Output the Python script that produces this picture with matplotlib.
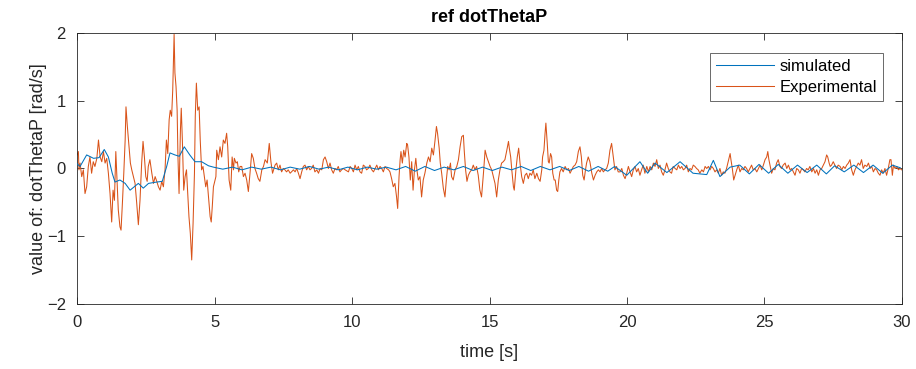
import matplotlib
matplotlib.use("Agg")
import matplotlib.pyplot as plt

# Experimental angular rate samples (time [s], value [rad/s])
exp_t = [
    0.00, 0.05, 0.07, 0.11, 0.17, 0.23, 0.29, 0.35, 0.41, 0.47, 0.53, 0.59, 0.65, 0.72, 0.78, 0.84, 0.90, 0.96,
    1.02, 1.08, 1.14, 1.20, 1.26, 1.31, 1.36, 1.41, 1.45, 1.50, 1.56, 1.60, 1.65, 1.70, 1.75, 1.78, 1.83, 1.89,
    1.94, 1.99, 2.05, 2.11, 2.17, 2.23, 2.29, 2.35, 2.40, 2.45, 2.50, 2.55, 2.59, 2.65, 2.72, 2.78, 2.84, 2.90,
    2.96, 3.02, 3.08, 3.14, 3.20, 3.25, 3.30, 3.35, 3.39, 3.44, 3.48, 3.53, 3.56, 3.60, 3.64, 3.67, 3.71, 3.76,
    3.79, 3.83, 3.88, 3.93, 3.98, 4.02, 4.07, 4.12, 4.17, 4.22, 4.27, 4.30, 4.34, 4.39, 4.44, 4.48, 4.53, 4.58,
    4.63, 4.68, 4.73, 4.78, 4.84, 4.88,
    4.92, 4.96, 5.05, 5.08, 5.14, 5.20, 5.26, 5.32, 5.38, 5.44, 5.48, 5.53, 5.59, 5.64, 5.69, 5.72, 5.78, 5.83,
    5.88, 5.93, 5.99, 6.05, 6.11, 6.17, 6.23, 6.29, 6.35, 6.41, 6.47, 6.53, 6.59, 6.65, 6.72, 6.78, 6.84, 6.92,
    6.99, 7.05, 7.11, 7.20, 7.26, 7.32, 7.38, 7.44, 7.50, 7.56, 7.62, 7.68, 7.75, 7.80, 7.87, 7.93, 7.99, 8.05,
    8.11, 8.17, 8.23, 8.29, 8.35, 8.41, 8.47, 8.53, 8.59, 8.65, 8.72, 8.78, 8.84, 8.90, 8.96, 9.02, 9.08, 9.14,
    9.20, 9.26, 9.32, 9.38, 9.44, 9.50, 9.56, 9.62, 9.68, 9.75,
    9.87, 9.93, 9.99, 10.05, 10.11, 10.17, 10.23, 10.29, 10.35, 10.41, 10.47, 10.53, 10.59, 10.65, 10.72, 10.78,
    10.84, 10.90, 10.96, 11.02, 11.08, 11.14, 11.20, 11.26, 11.33, 11.38, 11.44, 11.50, 11.56, 11.62, 11.66,
    11.71, 11.75, 11.78, 11.83, 11.88, 11.93, 11.99, 12.02, 12.07, 12.12, 12.17, 12.22, 12.27, 12.32, 12.36,
    12.41, 12.47, 12.53, 12.59, 12.65, 12.72, 12.78, 12.84, 12.90, 12.96, 13.02, 13.07, 13.11, 13.17, 13.21,
    13.26, 13.32, 13.38, 13.43, 13.48, 13.53, 13.58, 13.62, 13.68, 13.75, 13.81, 13.87, 13.93, 13.99, 14.05,
    14.08, 14.13, 14.18, 14.23, 14.29, 14.35, 14.41, 14.47, 14.53, 14.59, 14.65, 14.71, 14.78, 14.84,
    14.90, 14.96, 15.02, 15.08, 15.14, 15.20, 15.26, 15.32, 15.38, 15.44, 15.50, 15.56, 15.62, 15.69, 15.72,
    15.77, 15.81, 15.87, 15.90, 15.96, 16.01, 16.06, 16.11, 16.17, 16.23, 16.29, 16.35, 16.41, 16.47, 16.53,
    16.59, 16.65, 16.72, 16.78, 16.84, 16.90, 16.93, 16.98, 17.02, 17.05, 17.10, 17.14, 17.17, 17.22, 17.26,
    17.30, 17.35, 17.39, 17.44, 17.48, 17.52, 17.56, 17.62, 17.68, 17.75, 17.81, 17.87, 17.93, 17.99, 18.05,
    18.11, 18.17, 18.23, 18.29, 18.34, 18.39, 18.44, 18.49, 18.53, 18.59, 18.65, 18.72, 18.78, 18.84, 18.90,
    18.96, 19.02, 19.08, 19.14, 19.20, 19.26, 19.32, 19.38, 19.44, 19.50, 19.56, 19.62, 19.68,
    19.75, 19.81, 19.87, 19.93, 19.99, 20.05, 20.11, 20.17, 20.23, 20.29, 20.35, 20.41, 20.47, 20.53, 20.59,
    20.65, 20.72, 20.78, 20.84, 20.90, 20.96, 21.02, 21.08, 21.14, 21.20, 21.26, 21.32, 21.38, 21.44, 21.50,
    21.56, 21.62, 21.68, 21.75, 21.81, 21.87, 21.93, 21.99, 22.05, 22.11, 22.17, 22.23, 22.29, 22.35, 22.41,
    22.47, 22.53, 22.59, 22.65, 22.72, 22.78, 22.84, 22.90, 22.96, 23.02, 23.08, 23.14, 23.20, 23.26, 23.32,
    23.38, 23.44, 23.50, 23.56, 23.62, 23.68, 23.75, 23.78, 23.83, 23.88, 23.93, 23.99, 24.05, 24.11, 24.17,
    24.23, 24.29, 24.35, 24.41, 24.47, 24.53, 24.59, 24.65, 24.72,
    24.84, 24.90, 24.96, 25.02, 25.08, 25.12, 25.16, 25.21, 25.26, 25.32, 25.38, 25.44, 25.50, 25.56, 25.62,
    25.68, 25.75, 25.81, 25.87, 25.93, 25.99, 26.05, 26.11, 26.17, 26.23, 26.29, 26.35, 26.41, 26.47, 26.53,
    26.59, 26.65, 26.72, 26.78, 26.84, 26.90, 26.96, 27.02, 27.08, 27.14, 27.20, 27.26, 27.30, 27.35, 27.39,
    27.44, 27.50, 27.56, 27.62, 27.68, 27.75, 27.81, 27.87, 27.93, 27.99, 28.05, 28.11, 28.17, 28.23, 28.29,
    28.35, 28.41, 28.47, 28.53, 28.59, 28.65, 28.72, 28.78, 28.84, 28.90, 28.96, 29.02, 29.08, 29.14, 29.20,
    29.26, 29.32, 29.38, 29.44, 29.50, 29.56, 29.60, 29.65, 29.69, 29.75, 29.81, 29.87, 29.93, 29.99,
]
exp_v = [
    0.20, 0.25, -0.02, 0.08, -0.12, -0.02, -0.37, -0.27, 0.03, 0.17, -0.07, 0.10, 0.03, 0.15, 0.42, 0.17, 0.10, 0.25,
    0.08, 0.15, -0.07, -0.37, -0.79, -0.32, -0.47, 0.25, -0.12, -0.61, -0.86, -0.91, -0.51, -0.07, 0.42, 0.91, 0.62, 0.32,
    0.08, -0.02, -0.12, -0.22, -0.51, -0.83, -0.47, 0.08, 0.40, 0.17, -0.12, -0.19, 0.03, 0.13, -0.07, -0.22, -0.12, -0.19,
    -0.27, -0.32, -0.19, -0.27, -0.02, 0.42, 0.22, 0.72, 0.86, 0.77, 1.16, 1.98, 1.41, 1.21, 0.86, 0.17, -0.37, 0.57,
    0.89, 0.42, -0.32, -0.12, -0.02, -0.32, -0.71, -0.96, -1.35, -0.81, -0.07, 0.77, 1.26, 0.86, 0.91, 0.42, -0.02, 0.03,
    -0.12, -0.27, -0.17, -0.42, -0.71, -0.79,
    -0.55, -0.27, -0.12, 0.27, 0.13, 0.32, 0.17, 0.42, 0.37, 0.52, 0.32, -0.17, -0.32, 0.17, -0.02, 0.15, 0.08, 0.10,
    -0.05, 0.03, 0.03, -0.12, -0.07, -0.17, -0.34, -0.07, 0.22, 0.15, 0.00, -0.07, -0.15, -0.19, -0.02, 0.03, 0.13, 0.08,
    0.37, 0.10, -0.07, 0.05, 0.08, -0.02, 0.05, -0.05, 0.00, -0.02, -0.05, -0.02, -0.07, -0.05, -0.02, -0.05, 0.00, -0.07,
    -0.15, -0.05, 0.03, 0.05, -0.02, 0.03, -0.02, 0.00, 0.05, -0.05, -0.02, -0.07, 0.00, -0.02, 0.13, 0.17, 0.10, 0.00,
    0.08, -0.02, -0.07, 0.00, -0.02, 0.03, -0.05, -0.02, 0.00, -0.02,
    -0.05, 0.03, 0.00, -0.05, 0.05, -0.02, 0.03, -0.05, -0.07, 0.05, 0.03, -0.02, 0.00, 0.05, -0.02, -0.05,
    0.00, 0.05, -0.02, 0.03, 0.00, -0.05, 0.03, 0.00, -0.02, -0.05, -0.15, -0.27, -0.22, -0.42, -0.59,
    -0.12, 0.13, 0.25, 0.08, 0.27, 0.17, 0.37, 0.35, 0.17, -0.17, 0.10, -0.32, -0.02, 0.15, -0.02,
    -0.17, -0.12, -0.42, -0.17, -0.07, 0.08, 0.17, 0.10, 0.30, 0.20, 0.42, 0.62, 0.52, 0.30, 0.08,
    -0.07, -0.29, -0.42, -0.17, 0.03, -0.02, 0.08, -0.12, -0.17, -0.02, 0.03, 0.13, 0.32, 0.47, 0.49,
    0.27, -0.02, -0.19, -0.10, -0.05, -0.02, 0.05, -0.02, 0.03, -0.10, -0.32, -0.42, -0.07, 0.27,
    0.17, 0.10, 0.03, -0.02, -0.12, -0.22, -0.42, -0.17, -0.02, 0.08, 0.10, 0.13, 0.25, 0.40, 0.30,
    0.17, -0.02, -0.27, -0.32, -0.02, 0.17, 0.30, 0.08, -0.12, -0.22, -0.10, -0.07, -0.15, -0.07, -0.10,
    -0.02, -0.15, -0.07, -0.15, -0.19, -0.02, 0.17, 0.27, 0.52, 0.67, 0.37, 0.10, 0.08, 0.22, 0.17,
    -0.07, -0.17, -0.17, -0.32, -0.34, -0.17, -0.05, 0.00, -0.05, 0.03, -0.02, 0.00, -0.07, -0.02, 0.03,
    0.05, 0.10, 0.25, 0.32, 0.17, -0.10, -0.17, -0.02, 0.08, 0.17, 0.10, -0.07, -0.17, -0.10, -0.05,
    -0.02, -0.05, 0.00, -0.05, -0.02, 0.00, 0.08, 0.27, 0.37, 0.17, -0.02, 0.03, -0.05,
    -0.05, 0.00, -0.10, -0.15, -0.07, 0.03, -0.05, -0.12, -0.02, 0.03, -0.05, 0.00, -0.10, -0.02, 0.05,
    -0.07, 0.03, -0.05, 0.03, -0.02, 0.08, 0.03, 0.13, 0.00, 0.05, -0.05, -0.10, -0.02, 0.08, 0.00,
    -0.05, -0.07, 0.03, 0.00, -0.02, 0.05, 0.00, 0.03, -0.02, 0.00, 0.05, -0.05, 0.00, -0.02, 0.05,
    0.03, 0.00, -0.02, -0.07, -0.02, -0.05, 0.03, 0.00, 0.03, -0.02, 0.03, 0.00, -0.05, -0.02, -0.07,
    0.00, -0.10, -0.05, -0.07, 0.00, 0.10, 0.22, 0.13, 0.00, -0.17, -0.10, -0.02, 0.05, -0.05, 0.00,
    -0.02, 0.03, 0.00, -0.05, 0.00, 0.05, -0.02, 0.00, -0.05,
    0.05, -0.02, 0.05, 0.13, 0.17, 0.25, 0.13, 0.03, -0.07, 0.00, -0.02, 0.08, 0.13, 0.03, 0.00,
    0.05, 0.08, 0.00, 0.05, -0.02, 0.00, -0.05, -0.10, 0.00, -0.02, -0.07, 0.00, -0.02, -0.05, 0.00,
    -0.02, 0.03, -0.05, 0.00, -0.07, -0.02, -0.10, -0.02, 0.00, 0.05, 0.10, 0.20, 0.17, 0.08, 0.03,
    0.05, 0.10, 0.05, 0.00, 0.05, 0.03, -0.02, 0.03, 0.00, 0.05, 0.08, 0.13, -0.02, -0.10, -0.02,
    0.03, 0.08, 0.05, 0.13, 0.00, 0.05, 0.03, 0.08, 0.00, 0.03, -0.05, 0.00, -0.02, -0.07, -0.10,
    -0.02, -0.07, 0.00, -0.10, 0.00, 0.13, 0.13, -0.10, 0.05, 0.00, 0.03, -0.02, 0.00, -0.02,
]

# Simulated response (time [s], value [rad/s])
sim_t = [
    0.00, 0.11, 0.35, 0.60, 0.80, 0.99, 1.14, 1.28, 1.38, 1.56, 1.75, 1.93, 2.08, 2.23, 2.41, 2.60, 2.90, 3.10,
    3.26, 3.38, 3.56, 3.72, 3.90, 4.10, 4.29, 4.53, 4.78, 4.96,
    5.30, 5.65, 6.00, 6.35, 6.70, 7.05, 7.40, 7.75, 8.10, 8.45, 8.80, 9.15, 9.50, 9.85, 10.20, 10.55, 10.90,
    11.25, 11.60, 11.95, 12.30, 12.65, 13.00, 13.35, 13.70, 14.05, 14.40, 14.75, 15.10, 15.45, 15.80, 16.15,
    16.50, 16.85, 17.20, 17.55, 17.90, 18.25, 18.60, 18.95, 19.30, 19.55,
    19.99, 20.47, 20.75, 21.02, 21.45, 21.93, 22.40, 22.90, 23.14, 23.38, 23.75, 24.10, 24.45, 24.80, 25.15,
    25.50, 25.85, 26.20, 26.55, 26.90, 27.25, 27.55, 27.90, 28.25, 28.60, 28.95, 29.30, 29.65, 29.94,
]
sim_v = [
    0.07, 0.03, 0.20, 0.15, 0.16, 0.28, 0.17, -0.07, -0.20, -0.17, -0.22, -0.32, -0.27, -0.22, -0.29, -0.22,
    -0.20, -0.19, 0.03, 0.23, 0.20, 0.18, 0.32, 0.20, 0.10, 0.10, 0.04, 0.02,
    -0.01, 0.02, -0.02, 0.02, -0.01, 0.02, -0.02, 0.02, -0.01, 0.03, -0.01, 0.02, -0.02, 0.02, -0.02, 0.02, -0.01,
    0.02, -0.02, 0.03, -0.04, 0.03, -0.03, 0.02, -0.02, 0.03, -0.03, 0.02, -0.03, 0.02, -0.02, 0.03,
    -0.03, 0.03, -0.02, 0.03, -0.03, 0.03, -0.04, 0.03, -0.04, 0.03,
    -0.10, 0.10, -0.07, 0.08, -0.06, 0.10, -0.07, -0.09, 0.12, -0.12, 0.02, 0.05, -0.08, 0.06, -0.07,
    0.06, -0.07, 0.05, -0.06, 0.05, -0.08, 0.04, -0.05, 0.05, -0.06, 0.05, -0.07, 0.05, 0.01,
]

x_ticks = [0, 5, 10, 15, 20, 25, 30]
y_ticks = [-2, -1, 0, 1, 2]

plt.rcParams['font.family'] = ['Liberation Sans', 'DejaVu Sans']

fig = plt.figure(figsize=(9.16, 3.69), dpi=100)
ax = fig.add_axes([0.0841, 0.1762, 0.9006, 0.7344])

ax.plot(sim_t, sim_v, color='#0072BD', lw=0.75, label='simulated', zorder=3)
ax.plot(exp_t, exp_v, color='#D95319', lw=0.75, label='Experimental', zorder=2)

ax.set_xlim(0, 30)
ax.set_ylim(-2, 2)
ax.set_xticks(x_ticks)
ax.set_yticks(y_ticks)
ax.tick_params(direction='in', length=5, width=0.6, top=True, right=True,
               labelsize=12, colors='#262626')
ax.tick_params(axis='x', pad=8)
ax.tick_params(axis='y', pad=8)
for sp in ax.spines.values():
    sp.set_color('#262626')
    sp.set_linewidth(0.6)

ax.set_xlabel('time [s]', fontsize=13, color='#262626', labelpad=10)
ax.set_ylabel('value of: dotThetaP [rad/s]', fontsize=13, color='#262626', labelpad=0)
ax.set_title('ref dotThetaP', fontsize=13, fontweight='bold', color='black', pad=8)

leg = ax.legend(loc='upper right', bbox_to_anchor=(0.977, 0.927), fontsize=12,
                frameon=True, fancybox=False, handlelength=3.5, handletextpad=0.35,
                borderpad=0.35, labelspacing=0.38, borderaxespad=0.0)
leg.get_frame().set_edgecolor('#262626')
leg.get_frame().set_linewidth(0.6)

fig.savefig('out.png', dpi=100)
